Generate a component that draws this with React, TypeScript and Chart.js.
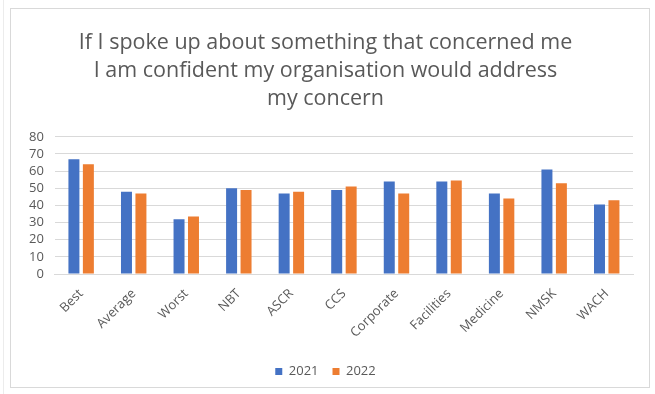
import React, { useEffect, useRef } from "react";
import { Chart, registerables } from "chart.js";

Chart.register(...registerables);

const categories = ["Best", "Average", "Worst", "NBT", "ASCR", "CCS", "Corporate", "Facilities", "Medicine", "NMSK", "WACH"];
const values2021 = [67, 48, 32, 50, 47, 49, 54, 54, 47, 61, 40.5];
const values2022 = [64, 47, 33.5, 49, 48, 51, 47, 54.5, 44, 53, 43];
const yTicks = [0, 10, 20, 30, 40, 50, 60, 70, 80];
const titleLines = [
  "If I spoke up about something that concerned me",
  "I am confident my organisation would address",
  "my concern",
];

const FONT = "'Open Sans', 'Liberation Sans', sans-serif";
const GREY = "#595959";

const borderPlugin = {
  id: "outerBorder",
  beforeDraw(chart: any) {
    const ctx = chart.ctx;
    ctx.save();
    ctx.fillStyle = "#ffffff";
    ctx.fillRect(0, 0, chart.width, chart.height);
    ctx.strokeStyle = "#d9d9d9";
    ctx.lineWidth = 1;
    ctx.strokeRect(10.5, 8.5, 639, 379);
    ctx.strokeStyle = "#ececec";
    ctx.beginPath();
    ctx.moveTo(3.5, 0);
    ctx.lineTo(3.5, chart.height);
    ctx.stroke();
    ctx.restore();
  },
};

export default function App() {
  const ref = useRef<HTMLCanvasElement>(null);
  useEffect(() => {
    if (!ref.current) return;
    const chart = new Chart(ref.current, {
      type: "bar",
      data: {
        labels: categories,
        datasets: [
          { label: "2021", data: values2021, backgroundColor: "#4472C4", barPercentage: 0.76, categoryPercentage: 0.55 },
          { label: "2022", data: values2022, backgroundColor: "#ED7D31", barPercentage: 0.76, categoryPercentage: 0.55 },
        ],
      },
      options: {
        animation: false,
        responsive: false,
        layout: { padding: { left: 18, right: 22, top: 8, bottom: 6 } },
        plugins: {
          title: {
            display: true,
            text: titleLines,
            color: GREY,
            font: { family: FONT, size: 21.5, weight: "normal", lineHeight: 1.3 },
            padding: { top: 21, bottom: 24 },
          },
          legend: {
            position: "bottom",
            labels: {
              color: GREY,
              font: { family: FONT, size: 13 },
              boxWidth: 7,
              boxHeight: 7,
              padding: 14,
            },
          },
          tooltip: { enabled: false },
        },
        scales: {
          x: {
            grid: { display: false, drawTicks: false },
            border: { color: "#d9d9d9" },
            afterFit: (axis: any) => {
              axis.height = 77;
            },
            ticks: {
              color: GREY,
              font: { family: FONT, size: 13 },
              maxRotation: 45,
              minRotation: 45,
              autoSkip: false,
              padding: 12,
            },
          },
          y: {
            min: 0,
            max: 80,
            afterBuildTicks: (axis: any) => {
              axis.ticks = yTicks.map((v) => ({ value: v }));
            },
            grid: { color: "#d9d9d9", drawTicks: false },
            border: { display: false },
            ticks: {
              color: GREY,
              font: { family: FONT, size: 13 },
              autoSkip: false,
              padding: 11,
            },
          },
        },
      },
      plugins: [borderPlugin],
    });
    return () => chart.destroy();
  }, []);
  return (
    <div style={{ position: "absolute", left: 0, top: 0, width: 655, height: 394, background: "#fff" }}>
      <canvas ref={ref} width={655} height={394} style={{ display: "block" }} />
    </div>
  );
}
